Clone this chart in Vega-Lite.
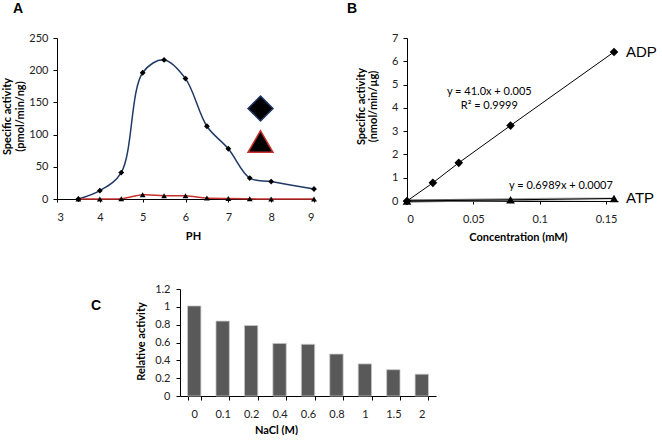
{
  "$schema": "https://vega.github.io/schema/vega-lite/v6.json",
  "autosize": {"type": "pad"},
  "padding": {"left": 1, "top": 2, "right": 0, "bottom": 0},
  "background": "white",
  "datasets": {
    "ph": [
      {"pH": 3.5, "Substrate": "ADP", "Activity": 0},
      {"pH": 4, "Substrate": "ADP", "Activity": 13},
      {"pH": 4.5, "Substrate": "ADP", "Activity": 41},
      {"pH": 5, "Substrate": "ADP", "Activity": 196},
      {"pH": 5.5, "Substrate": "ADP", "Activity": 216},
      {"pH": 6, "Substrate": "ADP", "Activity": 187},
      {"pH": 6.5, "Substrate": "ADP", "Activity": 113},
      {"pH": 7, "Substrate": "ADP", "Activity": 78},
      {"pH": 7.5, "Substrate": "ADP", "Activity": 32.5},
      {"pH": 8, "Substrate": "ADP", "Activity": 27},
      {"pH": 9, "Substrate": "ADP", "Activity": 15.5},
      {"pH": 3.5, "Substrate": "ATP", "Activity": 0},
      {"pH": 4, "Substrate": "ATP", "Activity": 0},
      {"pH": 4.5, "Substrate": "ATP", "Activity": 0.5},
      {"pH": 5, "Substrate": "ATP", "Activity": 6.5},
      {"pH": 5.5, "Substrate": "ATP", "Activity": 5},
      {"pH": 6, "Substrate": "ATP", "Activity": 5},
      {"pH": 6.5, "Substrate": "ATP", "Activity": 1.5},
      {"pH": 7, "Substrate": "ATP", "Activity": 0.7},
      {"pH": 7.5, "Substrate": "ATP", "Activity": 0.3},
      {"pH": 8, "Substrate": "ATP", "Activity": 0},
      {"pH": 9, "Substrate": "ATP", "Activity": 0}
    ],
    "conc": [
      {"Conc": 0, "Substrate": "ADP", "Activity": 0},
      {"Conc": 0.0195, "Substrate": "ADP", "Activity": 0.78},
      {"Conc": 0.039, "Substrate": "ADP", "Activity": 1.64},
      {"Conc": 0.078, "Substrate": "ADP", "Activity": 3.24},
      {"Conc": 0.156, "Substrate": "ADP", "Activity": 6.4},
      {"Conc": 0, "Substrate": "ATP", "Activity": 0},
      {"Conc": 0.078, "Substrate": "ATP", "Activity": 0.05},
      {"Conc": 0.156, "Substrate": "ATP", "Activity": 0.11}
    ],
    "trend": [
      {"Conc": 0, "Activity": 0.0007},
      {"Conc": 0.156, "Activity": 0.1097}
    ],
    "eqs": [
      {"Conc": 0.062, "Activity": 4.7, "Label": "y = 41.0x + 0.005"},
      {"Conc": 0.062, "Activity": 4.08, "Label": "R² = 0.9999"},
      {"Conc": 0.116, "Activity": 0.66, "Label": "y = 0.6989x + 0.0007"}
    ],
    "nacl": [
      {"NaCl": "0", "Rel": 1.01},
      {"NaCl": "0.1", "Rel": 0.84},
      {"NaCl": "0.2", "Rel": 0.79},
      {"NaCl": "0.4", "Rel": 0.59},
      {"NaCl": "0.6", "Rel": 0.58},
      {"NaCl": "0.8", "Rel": 0.47},
      {"NaCl": "1", "Rel": 0.36},
      {"NaCl": "1.5", "Rel": 0.295},
      {"NaCl": "2", "Rel": 0.245}
    ]
  },
  "spacing": 41,
  "vconcat": [
    {
      "bounds": "flush",
      "spacing": 93,
      "hconcat": [
        {
          "width": 257,
          "height": 161,
          "title": {"text": "A", "anchor": "start", "frame": "group", "dx": -44, "offset": 16, "font": "Liberation Sans", "fontSize": 14, "fontWeight": "bold", "color": "black"},
          "data": {"name": "ph"},
          "encoding": {
            "x": {"field": "pH", "type": "quantitative", "scale": {"domain": [3, 9], "nice": false},
              "axis": {"values": [3, 4, 5, 6, 7, 8, 9], "tickSize": 3, "labelPadding": 9, "title": "PH", "titleX": 136, "titleY": 37, "titleBaseline": "middle", "titleAlign": "center"}},
            "y": {"field": "Activity", "type": "quantitative", "scale": {"domain": [0, 250], "nice": false},
              "axis": {"values": [0, 50, 100, 150, 200, 250], "tickSize": 4, "labelPadding": 5, "title": ["Specific activity", "(pmol/min/ng)"], "titleAngle": -90, "titleX": -56, "titleY": 78, "titleAlign": "center", "titleBaseline": "top", "titleLineHeight": 13}}
          },
          "layer": [
            {
              "mark": {"type": "line", "interpolate": "catmull-rom", "strokeWidth": 1.5},
              "encoding": {
                "color": {"field": "Substrate", "type": "nominal", "scale": {"domain": ["ADP", "ATP"], "range": ["#1F3864", "#C8312E"]},
                  "legend": {"title": null, "orient": "none", "legendX": 190, "legendY": 57, "padding": 0, "rowPadding": 3, "labelFontSize": 11, "labelColor": "black", "labelOffset": 0,
                    "symbolType": "stroke", "symbolSize": 625, "symbolStrokeWidth": 1.5}}
              }
            },
            {
              "transform": [{"calculate": "datum.Substrate", "as": "Marker"}],
              "mark": {"type": "point", "filled": true, "color": "black", "opacity": 1, "size": 34},
              "encoding": {
                "shape": {"field": "Marker", "type": "nominal", "scale": {"domain": ["ADP", "ATP"], "range": ["diamond", "triangle-up"]},
                  "legend": {"title": null, "orient": "none", "legendX": 200, "legendY": 57, "padding": 0, "rowPadding": 3, "labelFontSize": 11, "labelOpacity": 0, "labelOffset": 0,
                    "symbolSize": 34, "symbolFillColor": "black", "symbolStrokeWidth": 0}}
              }
            }
          ]
        },
        {
          "width": 211,
          "height": 163,
          "title": {"text": "B", "anchor": "start", "frame": "group", "dx": -60, "offset": 16, "font": "Liberation Sans", "fontSize": 14, "fontWeight": "bold", "color": "black"},
          "encoding": {
            "x": {"field": "Conc", "type": "quantitative", "scale": {"domain": [0, 0.159], "nice": false},
              "axis": {"values": [0, 0.05, 0.1, 0.15], "format": "~g", "tickSize": 3, "labelPadding": 9, "title": "Concentration (mM)", "titleX": 111, "titleY": 36, "titleBaseline": "middle", "titleAlign": "center"}},
            "y": {"field": "Activity", "type": "quantitative", "scale": {"domain": [0, 7], "nice": false},
              "axis": {"values": [0, 1, 2, 3, 4, 5, 6, 7], "tickSize": 4, "labelPadding": 5, "title": ["Specific activity", "(nmol/min/µg)"], "titleAngle": -90, "titleX": -52, "titleY": 68, "titleAlign": "center", "titleBaseline": "top", "titleLineHeight": 12}}
          },
          "layer": [
            {
              "data": {"name": "trend"},
              "mark": {"type": "line", "strokeWidth": 3, "color": {"gradient": "linear", "x1": 0, "x2": 1, "y1": 0, "y2": 0, "stops": [{"offset": 0, "color": "#444444"}, {"offset": 1, "color": "#dddddd"}]}}
            },
            {
              "data": {"name": "conc"},
              "mark": {"type": "line", "strokeWidth": 1, "color": "black"},
              "encoding": {"detail": {"field": "Substrate"}}
            },
            {
              "data": {"name": "conc"},
              "mark": {"type": "point", "filled": true, "color": "black", "opacity": 1, "size": 75},
              "encoding": {
                "shape": {"field": "Substrate", "type": "nominal", "scale": {"domain": ["ADP", "ATP"], "range": ["diamond", "triangle-up"]}, "legend": null}
              }
            },
            {
              "data": {"name": "eqs"},
              "mark": {"type": "text", "font": "Lato", "fontSize": 11, "color": "black", "align": "center", "baseline": "middle"},
              "encoding": {"text": {"field": "Label"}}
            },
            {
              "data": {"name": "conc"},
              "transform": [{"filter": "datum.Conc == 0.156"}],
              "mark": {"type": "text", "font": "Liberation Sans", "fontSize": 15, "color": "black", "align": "left", "baseline": "middle", "dx": 12},
              "encoding": {"text": {"field": "Substrate"}}
            }
          ]
        }
      ]
    },
    {
      "bounds": "flush",
      "spacing": 93,
      "hconcat": [
        {
          "width": 30,
          "height": 107,
          "data": {"values": [{"t": ""}]},
          "mark": {"type": "text"},
          "encoding": {"text": {"field": "t"}}
        },
        {
          "width": 256,
          "height": 107,
          "title": {"text": "C", "anchor": "start", "frame": "group", "dx": -89, "offset": -30, "font": "Liberation Sans", "fontSize": 14, "fontWeight": "bold", "color": "black"},
          "data": {"name": "nacl"},
          "mark": {"type": "bar", "color": "#595959", "stroke": "#c8c8c8", "strokeWidth": 0.8},
          "encoding": {
            "x": {"field": "NaCl", "type": "nominal", "sort": null, "scale": {"paddingInner": 0.53, "paddingOuter": 0.265},
              "axis": {"labelAngle": 0, "tickBand": "extent", "tickSize": 4, "labelPadding": 8, "title": "NaCl (M)", "titleX": 96, "titleY": 34, "titleBaseline": "middle", "titleAlign": "center"}},
            "y": {"field": "Rel", "type": "quantitative", "scale": {"domain": [0, 1.2]},
              "axis": {"values": [0, 0.2, 0.4, 0.6, 0.8, 1, 1.2], "format": "~g", "tickSize": 4, "labelPadding": 6, "title": "Relative activity", "titleAngle": -90, "titleX": -39, "titleY": 52, "titleAlign": "center", "titleBaseline": "middle"}}
          }
        }
      ]
    }
  ],
  "config": {
    "view": {"stroke": null},
    "font": "Lato",
    "axis": {
      "grid": false,
      "labelOverlap": false,
      "domainColor": "black",
      "tickColor": "black",
      "labelColor": "#222222",
      "labelFont": "Lato",
      "labelFontSize": 11,
      "titleFont": "Lato",
      "titleFontSize": 11,
      "titleFontWeight": "bold",
      "titleColor": "black"
    },
    "legend": {"labelFont": "Lato"}
  }
}
